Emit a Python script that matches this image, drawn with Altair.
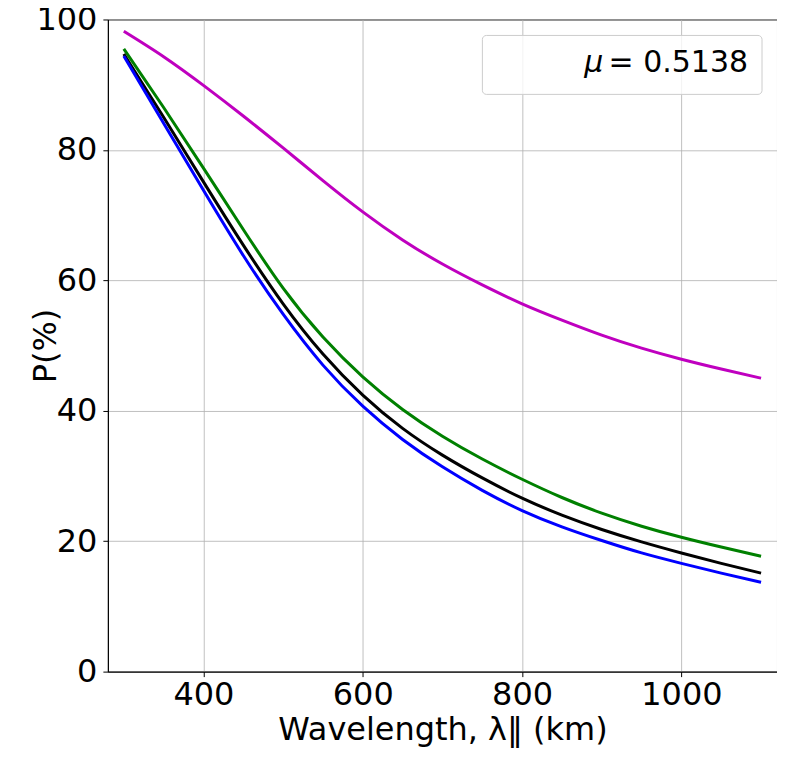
import altair as alt
import pandas as pd

wavelength = [300, 350, 400, 450, 500, 550, 600, 650, 700, 750, 800, 850, 900, 950, 1000, 1050, 1100]
p_magenta = [98.2, 94.3, 89.9, 85.2, 80.3, 75.3, 70.5, 66.2, 62.5, 59.3, 56.4,
             53.9, 51.6, 49.6, 47.9, 46.4, 45.0]
p_green = [95.5, 86.5, 77.2, 67.8, 58.8, 51.3, 45.2, 40.2, 36.1, 32.6, 29.5,
           26.7, 24.3, 22.3, 20.6, 19.1, 17.7]
p_black = [94.7, 85.0, 75.1, 65.4, 56.4, 48.7, 42.4, 37.3, 33.2, 29.7, 26.6,
           24.0, 21.8, 19.9, 18.2, 16.6, 15.1]
p_blue = [94.4, 84.1, 73.8, 63.8, 54.8, 47.0, 40.7, 35.6, 31.4, 27.8, 24.7,
          22.2, 20.1, 18.2, 16.6, 15.1, 13.7]

series_names = ["m", "g", "k", "b"]
series_colors = ["#bf00bf", "#008000", "#000000", "#0000ff"]
series_values = [p_magenta, p_green, p_black, p_blue]

x_ticks = [400, 600, 800, 1000]
y_ticks = [0, 20, 40, 60, 80, 100]
legend_label = "= 0.5138"

rows = []
for name, vals in zip(series_names, series_values):
    for order, (x, y) in enumerate(zip(wavelength, vals)):
        rows.append({"series": name, "wavelength": x, "P": y, "order": order})
df = pd.DataFrame(rows)

FONT = "DejaVu Sans"
W, H = 670, 653

lines = alt.Chart(df).mark_line(strokeWidth=3, interpolate="natural").encode(
    x=alt.X("wavelength:Q",
            scale=alt.Scale(domain=[280, 1120], nice=False, zero=False),
            axis=alt.Axis(values=x_ticks, title="Wavelength, λ‖ (km)",
                          format="d", labelPadding=3, titlePadding=4)),
    y=alt.Y("P:Q",
            scale=alt.Scale(domain=[0, 100], nice=False),
            axis=alt.Axis(values=y_ticks, title="P(%)", format="d",
                          labelPadding=6, titleX=-45, titleY=H / 2)),
    color=alt.Color("series:N", scale=alt.Scale(domain=series_names, range=series_colors),
                    legend=None),
    detail="series:N",
    order="order:Q",
)

legend_box = alt.Chart(pd.DataFrame({"a": [0]})).mark_rect(
    fill="white", fillOpacity=0.8, stroke="#cccccc", strokeWidth=1, cornerRadius=4
).encode(
    x=alt.value(375), x2=alt.value(655), y=alt.value(16), y2=alt.value(75)
)

legend_mu = alt.Chart(pd.DataFrame({"t": ["μ"]})).mark_text(
    font=FONT, fontSize=30, fontStyle="italic", align="right", baseline="alphabetic", color="black"
).encode(x=alt.value(496), y=alt.value(53), text="t:N")

legend_txt = alt.Chart(pd.DataFrame({"t": [legend_label]})).mark_text(
    font=FONT, fontSize=30, align="right", baseline="alphabetic", color="black"
).encode(x=alt.value(641), y=alt.value(53), text="t:N")

chart = alt.layer(lines, legend_box, legend_mu, legend_txt).properties(
    width=W, height=H,
    background="white",
    autosize=alt.AutoSizeParams(type="none"),
    padding={"left": 100, "top": 11, "right": 0, "bottom": 86},
).configure_view(
    stroke="black", strokeWidth=1
).configure_axis(
    labelFont=FONT, titleFont=FONT, labelFontSize=32, titleFontSize=32,
    titleFontWeight="normal", labelColor="black", titleColor="black",
    domainColor="black", tickColor="black", tickSize=5, tickWidth=1,
    gridColor="#b0b0b0", gridWidth=0.8, grid=True,
)

chart.save("out.html", embed_options={"renderer": "svg", "actions": False})
